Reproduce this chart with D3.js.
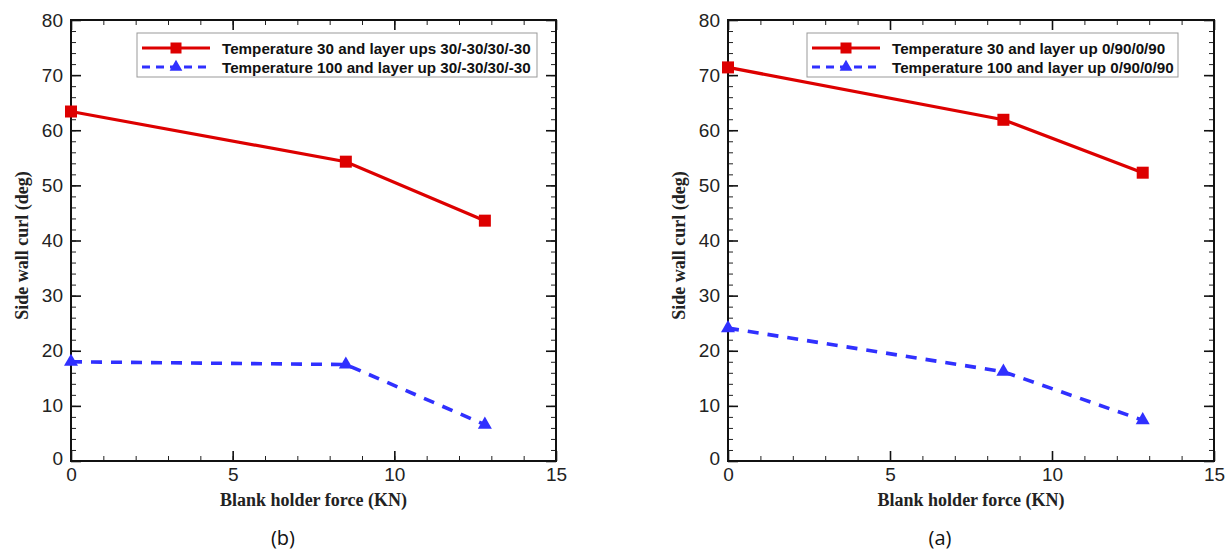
<!DOCTYPE html>
<html>
<head>
<meta charset="utf-8">
<script src="https://cdnjs.cloudflare.com/ajax/libs/d3/7.8.5/d3.min.js"></script>
<style>
  body { margin: 0; background: #fff; }
  svg { display: block; }
</style>
</head>
<body>
<svg id="chart" width="1230" height="551"></svg>
<script>
// blank holder force (KN) at the three test points
var forceKN = [0, 8.5, 12.8];

// panel (b): layer up 30/-30/30/-30
var curlB30 = [63.4, 54.3, 43.6];
var curlB100 = [18.0, 17.5, 6.6];

// panel (a): layer up 0/90/0/90
var curlA30 = [71.4, 61.9, 52.3];
var curlA100 = [24.1, 16.2, 7.4];

var xTicks = [0, 5, 10, 15];
var xMinor = d3.range(0, 16, 1);
var yTicks = [0, 10, 20, 30, 40, 50, 60, 70, 80];
var yMinor = d3.range(0, 81, 2);

var RED = '#dd0000',
    BLUE = '#3030ff';

var svg = d3.select('#chart');

var drawPanel = function (options) {

    var left = options.left,
        right = options.right,
        top = 20,
        bottom = 461;

    var x = d3.scaleLinear().domain([0, 15]).range([left, right]);
    var y = d3.scaleLinear().domain([0, 80]).range([bottom, top]);

    var g = svg.append('g');

    // minor ticks on all four sides
    var minors = [
        d3.axisBottom(x).tickValues(xMinor).tickSize(-5).tickFormat(''),
        d3.axisTop(x).tickValues(xMinor).tickSize(-5).tickFormat(''),
        d3.axisLeft(y).tickValues(yMinor).tickSize(-5).tickFormat(''),
        d3.axisRight(y).tickValues(yMinor).tickSize(-5).tickFormat('')
    ];
    var pos = ['translate(0,' + bottom + ')', 'translate(0,' + top + ')',
        'translate(' + left + ',0)', 'translate(' + right + ',0)'];

    minors.forEach(function (ax, i) {
        g.append('g').attr('transform', pos[i]).call(ax)
            .call(function (s) { s.select('.domain').remove(); })
            .selectAll('line').attr('stroke', '#222').attr('stroke-width', 1);
    });

    // major ticks
    g.append('g').attr('transform', pos[0])
        .call(d3.axisBottom(x).tickValues(xTicks).tickSize(-10).tickPadding(7));
    g.append('g').attr('transform', pos[1])
        .call(d3.axisTop(x).tickValues(xTicks).tickSize(-10).tickFormat(''));
    var yAxis = g.append('g').attr('transform', pos[2])
        .call(d3.axisLeft(y).tickValues(yTicks).tickSize(-10).tickPadding(8));
    g.append('g').attr('transform', pos[3])
        .call(d3.axisRight(y).tickValues(yTicks).tickSize(-10).tickFormat(''));

    g.selectAll('.domain').remove();
    g.selectAll('.tick line').filter(function () {
        return Math.abs(+d3.select(this).attr('x2') || +d3.select(this).attr('y2')) === 10;
    }).attr('stroke', '#111').attr('stroke-width', 1.6);

    g.selectAll('.tick text')
        .attr('font-family', 'Liberation Sans, Arial, sans-serif')
        .attr('font-size', 19)
        .attr('fill', '#222');

    // the 0 on the y axis sits a little low
    yAxis.selectAll('.tick text').filter(function (d) { return d === 0; }).attr('dy', '0.2em');

    // frame
    g.append('rect')
        .attr('x', left).attr('y', top)
        .attr('width', right - left).attr('height', bottom - top)
        .attr('fill', 'none').attr('stroke', '#111').attr('stroke-width', 2);

    var line = d3.line()
        .x(function (d, i) { return x(forceKN[i]); })
        .y(function (d) { return y(d); });

    g.append('path')
        .datum(options.s30)
        .attr('d', line)
        .attr('fill', 'none')
        .attr('stroke', RED)
        .attr('stroke-width', 3.2);

    g.append('path')
        .datum(options.s100)
        .attr('d', line)
        .attr('fill', 'none')
        .attr('stroke', BLUE)
        .attr('stroke-width', 3.6)
        .attr('stroke-dasharray', '11,9');

    g.selectAll('.sq')
        .data(options.s30)
        .enter().append('rect')
        .attr('x', function (d, i) { return x(forceKN[i]) - 6; })
        .attr('y', function (d) { return y(d) - 6; })
        .attr('width', 12).attr('height', 12)
        .attr('fill', RED);

    var tri = d3.symbol().type(d3.symbolTriangle).size(85);

    g.selectAll('.tri')
        .data(options.s100)
        .enter().append('path')
        .attr('d', tri)
        .attr('transform', function (d, i) {
            return 'translate(' + x(forceKN[i]) + ',' + y(d) + ')';
        })
        .attr('fill', BLUE);

    // legend
    var lg = g.append('g');
    lg.append('rect')
        .attr('x', options.legendX).attr('y', 33)
        .attr('width', options.legendW).attr('height', 44)
        .attr('fill', '#fff').attr('stroke', '#999').attr('stroke-width', 1);

    var rows = [
        {label: options.labels[0], color: RED, dash: null, mark: 'sq'},
        {label: options.labels[1], color: BLUE, dash: '8,6', mark: 'tri'}
    ];

    rows.forEach(function (r, i) {
        var cy = 48 + i * 19,
            x0 = options.legendX + 5;
        lg.append('line')
            .attr('x1', x0).attr('x2', x0 + 68)
            .attr('y1', cy).attr('y2', cy)
            .attr('stroke', r.color)
            .attr('stroke-width', 3.2)
            .attr('stroke-dasharray', r.dash);
        if (r.mark === 'sq') {
            lg.append('rect')
                .attr('x', x0 + 34 - 5.5).attr('y', cy - 5.5)
                .attr('width', 11).attr('height', 11)
                .attr('fill', r.color);
        } else {
            lg.append('path')
                .attr('d', d3.symbol().type(d3.symbolTriangle).size(70))
                .attr('transform', 'translate(' + (x0 + 34) + ',' + cy + ')')
                .attr('fill', r.color);
        }
        lg.append('text')
            .attr('x', x0 + 80).attr('y', cy + 5.5)
            .attr('font-family', 'Liberation Sans, Arial, sans-serif')
            .attr('font-weight', 'bold')
            .attr('font-size', 15.2)
            .attr('fill', '#111')
            .text(r.label);
    });

    // axis titles
    g.append('text')
        .attr('x', (left + right) / 2).attr('y', 506)
        .attr('text-anchor', 'middle')
        .attr('font-family', 'Liberation Serif, Times New Roman, serif')
        .attr('font-weight', 'bold')
        .attr('font-size', 18)
        .attr('fill', '#222')
        .text('Blank holder force (KN)');

    g.append('text')
        .attr('transform', 'translate(' + (left - 43) + ',' + ((top + bottom) / 2 + 5) + ') rotate(-90)')
        .attr('text-anchor', 'middle')
        .attr('font-family', 'Liberation Serif, Times New Roman, serif')
        .attr('font-weight', 'bold')
        .attr('font-size', 18)
        .attr('fill', '#222')
        .text('Side wall curl (deg)');

    // panel caption
    g.append('text')
        .attr('x', options.captionX).attr('y', 545)
        .attr('text-anchor', 'middle')
        .attr('font-family', 'Open Sans, DejaVu Sans, sans-serif')
        .attr('font-size', 20)
        .attr('fill', '#111')
        .text(options.caption);

};

drawPanel({
    left: 71,
    right: 556,
    s30: curlB30,
    s100: curlB100,
    legendX: 137,
    legendW: 400,
    labels: ['Temperature 30 and layer ups 30/-30/30/-30', 'Temperature 100 and layer up 30/-30/30/-30'],
    caption: '(b)',
    captionX: 283
});

drawPanel({
    left: 728,
    right: 1214,
    s30: curlA30,
    s100: curlA100,
    legendX: 807,
    legendW: 371,
    labels: ['Temperature 30 and layer up 0/90/0/90', 'Temperature 100 and layer up 0/90/0/90'],
    caption: '(a)',
    captionX: 940
});
</script>
</body>
</html>
